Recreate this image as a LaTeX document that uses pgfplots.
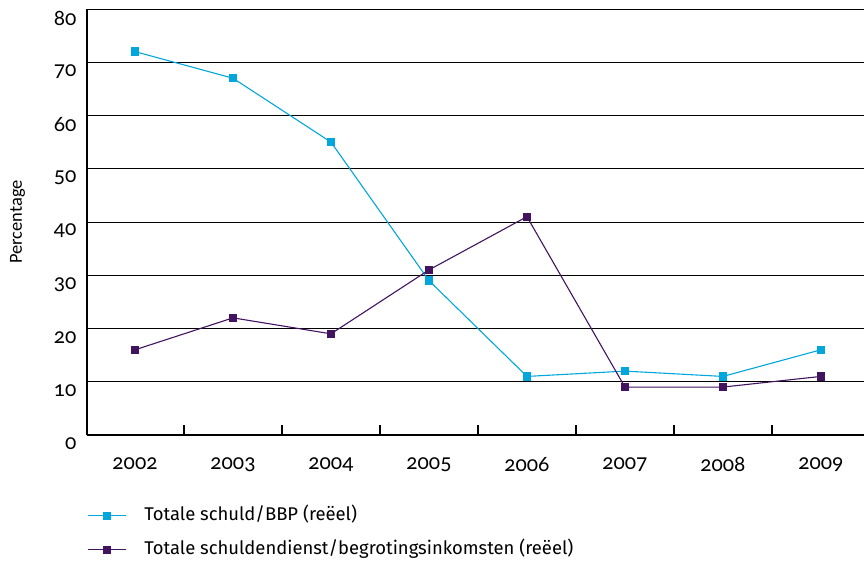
\documentclass[border=0pt]{standalone}
\usepackage{fontspec}
\setmainfont{Fira Sans}
\newfontfamily\numfont{Lato}[Numbers=OldStyle]
\newfontfamily\labfont{Carlito}
\usepackage{pgfplots}
\pgfplotsset{compat=1.18}
\definecolor{cyanl}{HTML}{01A7DC}
\definecolor{purp}{HTML}{42145F}
\begin{document}
\begin{tikzpicture}[x=1bp,y=1bp]
\begin{axis}[
  scale only axis,
  width=777bp, height=426bp,
  xmin=-0.49, xmax=7.44,
  ymin=0, ymax=80,
  axis x line*=bottom, axis y line*=left,
  axis line style={line width=1.2bp, -},
  ytick={0,10,...,80},
  yticklabels={0,10,20,30,40,50,60,70,80},
  ymajorgrids,
  grid style={line width=0.9bp, black},
  major tick length=0pt,
  xtick={0,...,7},
  xticklabels={2002,2003,2004,2005,2006,2007,2008,2009},
  extra x ticks={-0.49,0.5,1.5,2.5,3.5,4.5,5.5,6.5},
  extra x tick labels={},
  extra x tick style={major tick length=10bp, tick style={line width=1.2bp, black}, tick pos=bottom, xtick align=inside, grid=none},
  xticklabel style={font=\numfont\fontsize{21}{23}\selectfont, yshift=-19bp},
  yticklabel style={font=\numfont\fontsize{21}{23}\selectfont, yshift=-9bp, xshift=-7bp},
  ylabel={\labfont\fontsize{18.5}{20}\selectfont Percentage},
  ylabel style={at={(axis description cs:-0.0895,0.5)}, anchor=center},
  clip=false,
  legend style={at={(0,0)}, anchor=north west, yshift=-73bp, xshift=0bp, draw=none, fill=none,
    font=\fontsize{18.5}{20}\selectfont, row sep=19bp, inner sep=0pt,
    nodes={inner sep=0pt, text height=12bp, text depth=3bp}},
  legend cell align=left,
  legend image code/.code={\draw[#1, mark repeat=2, mark phase=2] plot coordinates {(0bp,0bp) (19bp,0bp) (38bp,0bp)};},
  legend columns=1,
]
\addplot[color=cyanl, line width=1.1bp, mark=square*, mark size=3.6bp] coordinates {
(0,72) (1,67) (2,55) (3,29) (4,11) (5,12) (6,11) (7,16)};
\addlegendentry{\hspace{18bp}Totale schuld/BBP (reëel)}
\addplot[color=purp, line width=1.1bp, mark=square*, mark size=3.6bp] coordinates {
(0,16) (1,22) (2,19) (3,31) (4,41) (5,9) (6,9) (7,11)};
\addlegendentry{\hspace{18bp}Totale schuldendienst/begrotingsinkomsten (reëel)}
\end{axis}
\pgfresetboundingbox
\path[use as bounding box] (-87bp,-127bp) rectangle (777bp,435bp);
\end{tikzpicture}
\end{document}
